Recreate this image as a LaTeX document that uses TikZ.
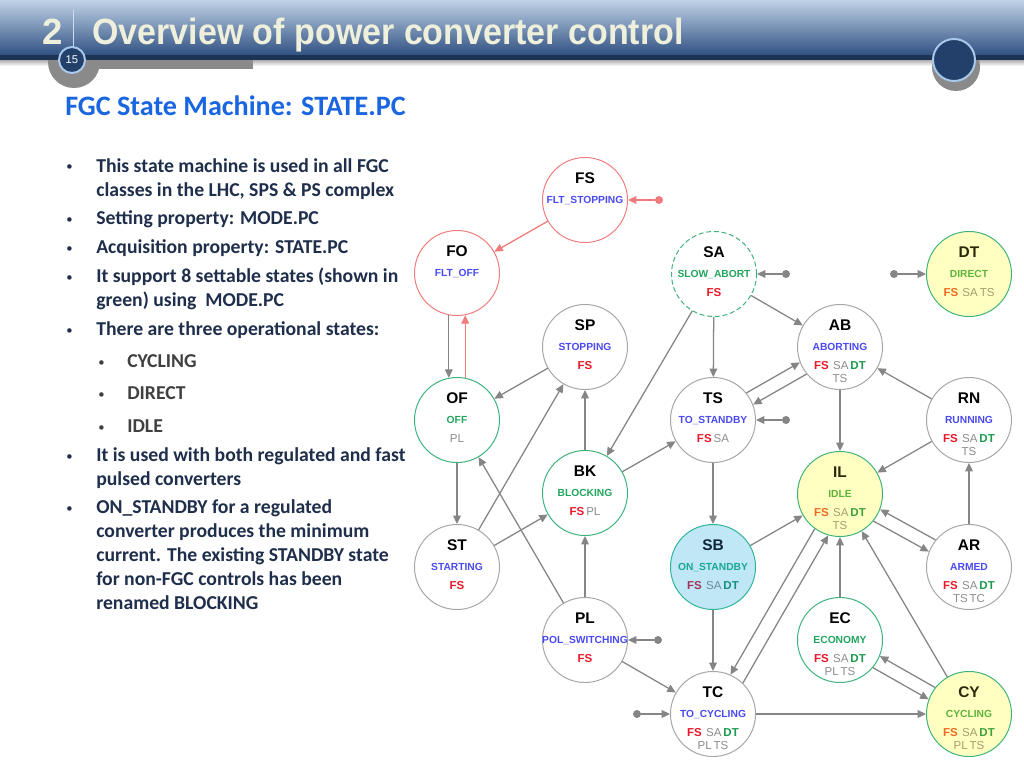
\documentclass[tikz,border=0pt]{standalone}
\usepackage{fontspec}
\setmainfont{Carlito}
\newfontfamily\diagfont{Liberation Sans}
\usetikzlibrary{arrows.meta}

% slide colours
\definecolor{hdtop}{HTML}{C0D2E8}
\definecolor{hdmid}{HTML}{86A1C8}
\definecolor{hdbot}{HTML}{2E4F80}
\definecolor{hddark}{HTML}{1D3355}
\definecolor{hdgray}{HTML}{8A8A8A}
\definecolor{hdnavy}{HTML}{22406A}
\definecolor{hdring}{HTML}{A9C9EA}
\definecolor{hdtext}{HTML}{EEF0DC}
\definecolor{hdsep}{HTML}{D0DCEB}
\definecolor{subblue}{HTML}{1A66E0}
\definecolor{bodyblue}{HTML}{1F2E4B}
\definecolor{bodygray}{HTML}{404040}

% state machine colours
\definecolor{edgegray}{HTML}{858585}
\definecolor{faultred}{HTML}{F07B7B}
\definecolor{rimgray}{HTML}{A6A6A6}
\definecolor{rimgreen}{HTML}{3DB37A}
\definecolor{rimteal}{HTML}{2DB59A}
\definecolor{fillyel}{HTML}{FFFFC2}
\definecolor{fillblue}{HTML}{BFE7F5}
\definecolor{nmblue}{HTML}{4A4AF2}
\definecolor{nmgreen}{HTML}{22A55E}
\definecolor{nmyel}{HTML}{5EB43A}
\definecolor{nmteal}{HTML}{1BA892}
% palettes: w = white, y = yellow, b = blue
\definecolor{lblw}{HTML}{000000}
\definecolor{fsw}{HTML}{E8182A}
\definecolor{grw}{HTML}{8C8C8C}
\definecolor{dtw}{HTML}{1E9A4E}
\definecolor{lbly}{HTML}{2A2A0A}
\definecolor{fsy}{HTML}{EE6A24}
\definecolor{gry}{HTML}{A39F6E}
\definecolor{dty}{HTML}{3DA23A}
\definecolor{lblb}{HTML}{10263A}
\definecolor{fsb}{HTML}{A0365E}
\definecolor{grb}{HTML}{6A8C9A}
\definecolor{dtb}{HTML}{16907A}

\newcommand{\pal}{w}
\newcommand{\stFS}{\textcolor{fs\pal}{\bfseries FS}}
\newcommand{\stSA}{\textcolor{gr\pal}{SA}}
\newcommand{\stDT}{\textcolor{dt\pal}{\bfseries DT}}
\newcommand{\stPL}{\textcolor{gr\pal}{PL}}
\newcommand{\stTS}{\textcolor{gr\pal}{TS}}
\newcommand{\stTC}{\textcolor{gr\pal}{TC}}

\tikzset{
  pcstate/.style={circle, minimum size=2.125cm, inner sep=0pt, line width=0.7pt},
  plainstate/.style={draw=rimgray},
  faultstate/.style={draw=faultred},
  setstate/.style={draw=rimgreen},
  slowstate/.style={draw=rimgreen, dash pattern=on 3.5pt off 2pt},
  yelstate/.style={draw=rimgreen, fill=fillyel},
  bluestate/.style={draw=rimteal, fill=fillblue},
  statecode/.style={anchor=base, inner sep=0pt, font=\diagfont\bfseries\fontsize{11}{13}\selectfont},
  statename/.style={anchor=base, inner sep=0pt, font=\diagfont\bfseries\fontsize{7.3}{8}\selectfont},
  stateflags/.style={anchor=base, inner sep=0pt, font=\diagfont\fontsize{8.2}{9}\selectfont},
  trans/.style={draw=edgegray, line width=0.9pt, -{Triangle[length=6pt,width=5.5pt]}},
  faulttrans/.style={trans, draw=faultred, -{Triangle[length=6pt,width=5.5pt]}},
  indot/.style={circle, fill=edgegray, inner sep=0pt, minimum size=0.2cm},
  bullettext/.style={anchor=base west, inner sep=0pt, text=bodyblue, font=\bfseries\fontsize{14}{17}\selectfont},
  subtext/.style={bullettext, text=bodygray},
  bulletdot/.style={bullettext, font=\fontsize{9}{10}\selectfont}
}

% #1 name, #2 circle style, #3 palette, #4 position, #5 code, #6 title colour, #7 title, #8 #9 flag lines
\newcommand{\pcstate}[9]{%
  \renewcommand{\pal}{#3}%
  \node[pcstate,#2] (#1) at (#4) {};
  \node[statecode,text=lbl#3] (#1-code) at ([yshift=11.5pt]#1.center) {#5};
  \node[statename,text=#6] (#1-name) at ([yshift=-2.7pt]#1.center) {#7};
  \if\relax\detokenize{#8}\relax\else
    \node[stateflags] (#1-fl) at ([yshift=-16pt]#1.center) {#8};\fi
  \if\relax\detokenize{#9}\relax\else
    \node[stateflags] (#1-fl2) at ([yshift=-25pt]#1.center) {#9};\fi
}

\begin{document}
\begin{tikzpicture}[x=0.025cm,y=-0.025cm]
  \useasboundingbox (0,0) rectangle (1024,768);
  \fill[white] (0,0) rectangle (1024,768);

  % header
  \shade[top color=hdgray!80, bottom color=white] (0,59) rectangle (1024,66);
  \fill[hdgray] (74,62) circle (26);
  \fill[hdgray] (85,60) rectangle (253,69);
  \fill[hdgray] (956,67) circle (24);
  \shade[top color=hdtop, middle color=hdmid, bottom color=hdbot] (0,0) rectangle (1024,56);
  \fill[hddark] (0,55) rectangle (1024,60);
  \draw[hdsep, line width=0.6pt] (73,10) -- (73,50);
  \node[circle, fill=hdnavy, draw=hdring, line width=1.4pt, minimum size=0.65cm, inner sep=0pt, text=white, font=\diagfont\fontsize{8}{9}\selectfont] (pageno) at (72,60) {15};
  \node[circle, fill=hdnavy, draw=hdring, line width=1.4pt, minimum size=1.05cm, inner sep=0pt] (deco) at (954,60) {};
  \node[anchor=base west, inner sep=0pt, text=hdtext, font=\diagfont\bfseries\fontsize{26}{30}\selectfont] (secno) at (42,45) {2};
  \node[anchor=base west, inner sep=0pt, text=hdtext, font=\diagfont\bfseries\fontsize{26}{30}\selectfont] (title) at (92,45) {\scalebox{0.93}[1]{Overview of power converter control}};
  \node[anchor=base west, inner sep=0pt, text=subblue, font=\bfseries\fontsize{20}{24}\selectfont] (subtitle) at (65,116) {FGC State Machine: STATE.PC};

  % bullets
  \foreach \y in {172,224,253,282,335,461,513}
    \node[bulletdot] (dot-\y) at (66,\y-1) {\textbullet};
  \foreach \y/\txt in {172/{This state machine is used in all FGC}, 196/{classes in the LHC, SPS \& PS complex},
      224/{Setting property: MODE.PC}, 253/{Acquisition property: STATE.PC},
      282/{It support 8 settable states (shown in}, 306/{green) using \ MODE.PC},
      335/{There are three operational states:},
      461/{It is used with both regulated and fast}, 485/{pulsed converters},
      513/{ON\_STANDBY for a regulated}, 537/{converter produces the minimum},
      561/{current. The existing STANDBY state}, 585/{for non-FGC controls has been}, 609/{renamed BLOCKING}}
    \node[bullettext] (line-\y) at (96,\y) {\txt};
  \foreach \y/\txt in {367/CYCLING, 399/DIRECT, 432/IDLE} {
    \node[bulletdot, text=bodygray] (dot-\y) at (98,\y-1) {\textbullet};
    \node[subtext] (line-\y) at (127,\y) {\txt};
  }

  % states
  \pcstate{fs}{faultstate}{w}{585,200}{FS}{nmblue}{FLT\_STOPPING}{}{}
  \pcstate{fo}{faultstate}{w}{457,273}{FO}{nmblue}{FLT\_OFF}{}{}
  \pcstate{sa}{slowstate}{w}{714,274}{SA}{nmgreen}{SLOW\_ABORT}{\stFS}{}
  \pcstate{dt}{yelstate}{y}{969,274}{DT}{nmyel}{DIRECT}{\stFS\hspace{3pt}\stSA\,\stTS}{}
  \pcstate{sp}{plainstate}{w}{585,347}{SP}{nmblue}{STOPPING}{\stFS}{}
  \pcstate{ab}{plainstate}{w}{840,347}{AB}{nmblue}{ABORTING}{\stFS\hspace{3pt}\stSA\,\stDT}{\stTS}
  \pcstate{of}{setstate}{w}{457,420}{OF}{nmgreen}{OFF}{\stPL}{}
  \pcstate{ts}{plainstate}{w}{713,420}{TS}{nmblue}{TO\_STANDBY}{\stFS\,\stSA}{}
  \pcstate{rn}{plainstate}{w}{969,420}{RN}{nmblue}{RUNNING}{\stFS\hspace{3pt}\stSA\,\stDT}{\stTS}
  \pcstate{bk}{setstate}{w}{585,493}{BK}{nmgreen}{BLOCKING}{\stFS\,\stPL}{}
  \pcstate{il}{yelstate}{y}{840,494}{IL}{nmyel}{IDLE}{\stFS\hspace{3pt}\stSA\,\stDT}{\stTS}
  \pcstate{st}{plainstate}{w}{457,567}{ST}{nmblue}{STARTING}{\stFS}{}
  \pcstate{sb}{bluestate}{b}{713,567}{SB}{nmteal}{ON\_STANDBY}{\stFS\hspace{3pt}\stSA\,\stDT}{}
  \pcstate{ar}{plainstate}{w}{969,567}{AR}{nmblue}{ARMED}{\stFS\hspace{3pt}\stSA\,\stDT}{\stTS\,\stTC}
  \pcstate{pl}{plainstate}{w}{585,640}{PL}{nmblue}{POL\_SWITCHING}{\stFS}{}
  \pcstate{ec}{setstate}{w}{840,640}{EC}{nmgreen}{ECONOMY}{\stFS\hspace{3pt}\stSA\,\stDT}{\stPL\,\stTS}
  \pcstate{tc}{plainstate}{w}{713,714}{TC}{nmblue}{TO\_CYCLING}{\stFS\hspace{3pt}\stSA\,\stDT}{\stPL\,\stTS}
  \pcstate{cy}{yelstate}{y}{969,714}{CY}{nmyel}{CYCLING}{\stFS\hspace{3pt}\stSA\,\stDT}{\stPL\,\stTS}

  % entry points
  \node[indot, fill=faultred] (fs-in) at (659,200) {};
  \node[indot] (sa-in) at (786,274) {};
  \node[indot] (dt-in) at (894,274) {};
  \node[indot] (ts-in) at (786,420) {};
  \node[indot] (pl-in) at (658,640) {};
  \node[indot] (tc-in) at (637,714) {};

  % transitions
  \draw[faulttrans] (fs-in) -- (fs);
  \draw[faulttrans] (fs) -- (fo);
  \draw[faulttrans] (of.79) -- (fo.281);
  \draw[trans] (fo.259) -- (of.101);
  \draw[trans] (sa-in) -- (sa);
  \draw[trans] (dt-in) -- (dt);
  \draw[trans] (ts-in) -- (ts);
  \draw[trans] (pl-in) -- (pl);
  \draw[trans] (tc-in) -- (tc);
  \draw[trans] (sa) -- (ab);
  \draw[trans] (sa) -- (ts);
  \draw[trans] (sa) -- (bk);
  \draw[trans] (ts.39) -- (ab.201);
  \draw[trans] (ab.219) -- (ts.21);
  \draw[trans] (rn) -- (ab);
  \draw[trans] (ab) -- (il);
  \draw[trans] (sp) -- (of);
  \draw[trans] (bk) -- (sp);
  \draw[trans] (st) -- (sp);
  \draw[trans] (pl) -- (of);
  \draw[trans] (of) -- (st);
  \draw[trans] (st) -- (bk);
  \draw[trans] (bk) -- (ts);
  \draw[trans] (pl) -- (bk);
  \draw[trans] (pl) -- (tc);
  \draw[trans] (ts) -- (sb);
  \draw[trans] (sb) -- (tc);
  \draw[trans] (tc) -- (cy);
  \draw[trans] (sb) -- (il);
  \draw[trans] (rn) -- (il);
  \draw[trans] (ar) -- (rn);
  \draw[trans] (il.321) -- (ar.159);
  \draw[trans] (ar.141) -- (il.339);
  \draw[trans] (il.234) -- (tc.66);
  \draw[trans] (tc.46) -- (il.254);
  \draw[trans] (ec) -- (il);
  \draw[trans] (cy) -- (il);
  \draw[trans] (ec.320) -- (cy.160);
  \draw[trans] (cy.142) -- (ec.338);
\end{tikzpicture}
\end{document}
